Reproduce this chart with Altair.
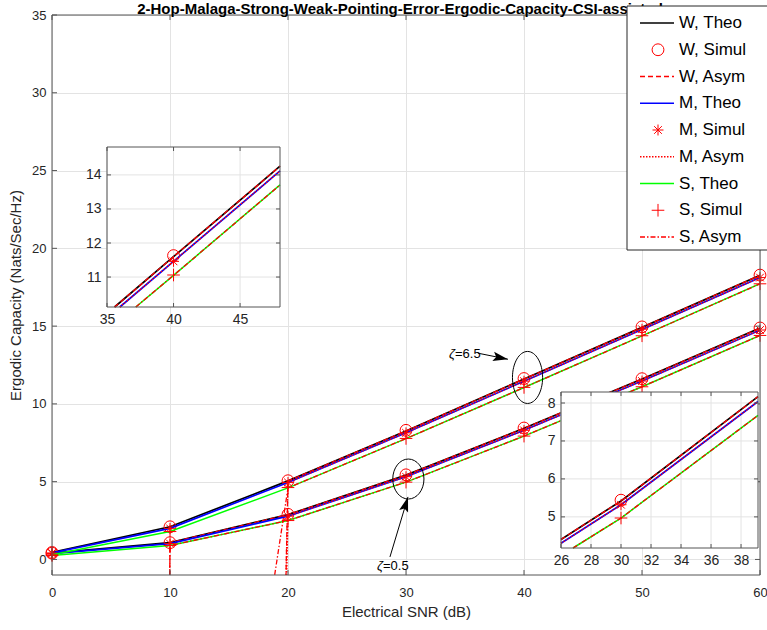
import altair as alt
import pandas as pd

# ---------------- values ----------------
snr = [0, 10, 20, 30, 40, 50, 60]

# zeta = 6.5 (upper bundle)
z65_w_theo = [0.45, 2.10, 5.05, 8.26, 11.60, 14.92, 18.27]
z65_w_sim = [0.45, 2.10, 5.06, 8.30, 11.63, 14.95, 18.28]
z65_w_asym = [-900, -350, 5.05, 8.26, 11.60, 14.92, 18.27]
z65_m_theo = [0.42, 2.00, 4.95, 8.14, 11.46, 14.78, 18.12]
z65_m_sim = [0.42, 2.00, 4.95, 8.14, 11.46, 14.80, 18.12]
z65_m_asym = [-900, -350, 4.95, 8.14, 11.46, 14.78, 18.12]
z65_s_theo = [0.30, 1.80, 4.60, 7.77, 11.05, 14.37, 17.72]
z65_s_sim = [0.30, 1.80, 4.62, 7.78, 11.06, 14.38, 17.72]
z65_s_asym = [-400, -45, 4.60, 7.77, 11.05, 14.37, 17.72]

# zeta = 0.5 (lower bundle)
z05_w_theo = [0.40, 1.08, 2.88, 5.42, 8.43, 11.60, 14.87]
z05_w_sim = [0.40, 1.08, 2.90, 5.44, 8.45, 11.62, 14.88]
z05_w_asym = [-900, 1.08, 2.88, 5.42, 8.43, 11.60, 14.87]
z05_m_theo = [0.38, 1.02, 2.78, 5.32, 8.30, 11.47, 14.74]
z05_m_sim = [0.38, 1.02, 2.78, 5.32, 8.30, 11.47, 14.75]
z05_m_asym = [-900, -350, 2.78, 5.32, 8.30, 11.47, 14.74]
z05_s_theo = [0.25, 0.90, 2.50, 4.97, 7.93, 11.10, 14.40]
z05_s_sim = [0.25, 0.90, 2.50, 4.97, 7.93, 11.10, 14.40]
z05_s_asym = [-900, 0.90, 2.50, 4.97, 7.93, 11.10, 14.40]

legend_labels = ["W, Theo", "W, Simul", "W, Asym", "M, Theo", "M, Simul",
                 "M, Asym", "S, Theo", "S, Simul", "S, Asym"]

main_xticks = [0, 10, 20, 30, 40, 50, 60]
main_yticks = [0, 5, 10, 15, 20, 25, 30, 35]
main_xdom = [0, 60]
main_ydom = [-1, 35]

in1_xdom = [35, 48]
in1_ydom = [10.12, 14.82]
in1_xticks = [35, 40, 45]
in1_yticks = [11, 12, 13, 14]

in2_xdom = [26, 39.13]
in2_ydom = [4.18, 8.29]
in2_xticks = [26, 28, 30, 32, 34, 36, 38]
in2_yticks = [5, 6, 7, 8]

# annotations (data coordinates of the main axes)
ell_x = [40.3, 30.2]
ell_y = [11.70, 5.17]
arrow_x = [36.1, 28.64]
arrow_y = [13.26, 0.16]
arrow_x2 = [38.64, 30.17]
arrow_y2 = [12.87, 4.02]
arrow_ang = [101, 17]
lab_x = [34.15, 28.05]
lab_y = [13.21, -0.42]
lab_val = ["=6.5", "=0.5"]

title_str = "2-Hop-Malaga-Strong-Weak-Pointing-Error-Ergodic-Capacity-CSI-assisted"

curves = {
    ("6.5", "W, Theo"): z65_w_theo, ("6.5", "W, Simul"): z65_w_sim, ("6.5", "W, Asym"): z65_w_asym,
    ("6.5", "M, Theo"): z65_m_theo, ("6.5", "M, Simul"): z65_m_sim, ("6.5", "M, Asym"): z65_m_asym,
    ("6.5", "S, Theo"): z65_s_theo, ("6.5", "S, Simul"): z65_s_sim, ("6.5", "S, Asym"): z65_s_asym,
    ("0.5", "W, Theo"): z05_w_theo, ("0.5", "W, Simul"): z05_w_sim, ("0.5", "W, Asym"): z05_w_asym,
    ("0.5", "M, Theo"): z05_m_theo, ("0.5", "M, Simul"): z05_m_sim, ("0.5", "M, Asym"): z05_m_asym,
    ("0.5", "S, Theo"): z05_s_theo, ("0.5", "S, Simul"): z05_s_sim, ("0.5", "S, Asym"): z05_s_asym,
}

# ---------------- styles ----------------
FONT = "Liberation Sans"
RED = "#ff0000"
TXT = "#262626"
GRID = "#e3e3e3"
FRAME = "#555555"
W, H = 708, 560

ASTER = "M0,-1L0,1M-1,0L1,0M-0.7,-0.7L0.7,0.7M-0.7,0.7L0.7,-0.7"
PLUS = "M-1,0L1,0M0,-1L0,1"
ELLIPSE_A = "M-0.58,0A0.58,1,0,1,1,0.58,0A0.58,1,0,1,1,-0.58,0Z"
ELLIPSE_B = "M-0.78,0A0.78,1,0,1,1,0.78,0A0.78,1,0,1,1,-0.78,0Z"
HEAD = "M0,0L0.62,2L0,1.6L-0.62,2Z"

SERIES = [
    ("W, Theo", "line", dict(color="#000000", strokeWidth=1.7)),
    ("W, Simul", "point", dict(shape="circle", size=140)),
    ("W, Asym", "line", dict(color=RED, strokeWidth=1.3, strokeDash=[5, 3])),
    ("M, Theo", "line", dict(color="#0000ff", strokeWidth=1.7)),
    ("M, Simul", "point", dict(shape=ASTER, size=120)),
    ("M, Asym", "line", dict(color=RED, strokeWidth=1.3, strokeDash=[1.5, 1.5])),
    ("S, Theo", "line", dict(color="#00ff00", strokeWidth=1.5)),
    ("S, Simul", "point", dict(shape=PLUS, size=160)),
    ("S, Asym", "line", dict(color=RED, strokeWidth=1.3, strokeDash=[5, 2, 1.5, 2])),
]


def clip_segments(xs, ys, box):
    """Clip a polyline to a rectangle (what an inset axes does when drawing)."""
    x0, x1, y0, y1 = box
    pieces, cur = [], []
    for i in range(len(xs) - 1):
        ax, ay = xs[i], ys[i]
        dx, dy = xs[i + 1] - ax, ys[i + 1] - ay
        t0, t1, ok = 0.0, 1.0, True
        for p, q in ((-dx, ax - x0), (dx, x1 - ax), (-dy, ay - y0), (dy, y1 - ay)):
            if p == 0:
                if q < 0:
                    ok = False
                    break
                continue
            r = q / p
            if p < 0:
                t0 = max(t0, r)
            else:
                t1 = min(t1, r)
        if not ok or t0 >= t1:
            if cur:
                pieces.append(cur)
                cur = []
            continue
        P = (ax + t0 * dx, ay + t0 * dy)
        Q = (ax + t1 * dx, ay + t1 * dy)
        if cur and abs(cur[-1][0] - P[0]) < 1e-9 and abs(cur[-1][1] - P[1]) < 1e-9:
            cur.append(Q)
        else:
            if cur:
                pieces.append(cur)
            cur = [P, Q]
    if cur:
        pieces.append(cur)
    return pieces


# ---------------- main axes ----------------
rows = []
for grp in ["6.5", "0.5"]:
    for lab, kind, st in SERIES:
        for i, (x, v) in enumerate(zip(snr, curves[(grp, lab)])):
            rows.append(dict(series=lab, piece=grp, ord=i, snr=x, val=v))
main_df = pd.DataFrame(rows)

sx_main = alt.Scale(domain=main_xdom, nice=False, zero=False)
sy_main = alt.Scale(domain=main_ydom, nice=False, zero=False)
ax_main_x = alt.Axis(orient="bottom", values=main_xticks, grid=True, domain=False, ticks=False,
                     labelFontSize=13, labelPadding=11, labelFlush=False,
                     title="Electrical SNR (dB)", titleFontSize=15, titlePadding=5)
ax_main_y = alt.Axis(orient="left", values=main_yticks, grid=True, domain=False, ticks=False,
                     labelFontSize=13, labelPadding=6,
                     title="Ergodic Capacity (Nats/Sec/Hz)", titleFontSize=15, titlePadding=8)


def MX(f):
    return alt.X(f, scale=sx_main, axis=ax_main_x)


def MY(f):
    return alt.Y(f, scale=sy_main, axis=ax_main_y)


main_layers = []
for lab, kind, st in SERIES:
    src = alt.Chart(main_df).transform_filter(alt.datum.series == lab)
    if kind == "line":
        main_layers.append(src.mark_line(clip=True, **st).encode(
            x=MX("snr:Q"), y=MY("val:Q"), detail="piece:N", order="ord:Q"))
    else:
        main_layers.append(src.mark_point(filled=False, color=RED, strokeWidth=1, opacity=1, **st).encode(
            x=MX("snr:Q"), y=MY("val:Q")))

ell_df = pd.DataFrame({"x": ell_x, "y": ell_y})
main_layers.append(alt.Chart(ell_df.iloc[[0]]).mark_point(
    shape=ELLIPSE_A, size=2704, filled=False, color="black", strokeWidth=1, opacity=1).encode(
    x=MX("x:Q"), y=MY("y:Q")))
main_layers.append(alt.Chart(ell_df.iloc[[1]]).mark_point(
    shape=ELLIPSE_B, size=1600, filled=False, color="black", strokeWidth=1, opacity=1).encode(
    x=MX("x:Q"), y=MY("y:Q")))

arr_df = pd.DataFrame({"x": arrow_x, "y": arrow_y, "x2": arrow_x2, "y2": arrow_y2, "ang": arrow_ang})
main_layers.append(alt.Chart(arr_df).mark_rule(color="black", strokeWidth=1).encode(
    x=MX("x:Q"), y=MY("y:Q"), x2="x2:Q", y2="y2:Q"))
main_layers.append(alt.Chart(arr_df).mark_point(
    shape=HEAD, size=225, filled=True, color="black", opacity=1).encode(
    x=MX("x2:Q"), y=MY("y2:Q"), angle=alt.Angle("ang:Q", scale=None)))

lab_df = pd.DataFrame({"x": lab_x, "y": lab_y, "t": lab_val, "z": ["ζ", "ζ"]})
main_layers.append(alt.Chart(lab_df).mark_text(
    align="right", baseline="middle", fontSize=13, fontStyle="italic", font=FONT, color="black").encode(
    x=MX("x:Q"), y=MY("y:Q"), text="z:N"))
main_layers.append(alt.Chart(lab_df).mark_text(
    align="left", baseline="middle", fontSize=13, font=FONT, color="black").encode(
    x=MX("x:Q"), y=MY("y:Q"), text="t:N"))

xt_df = pd.DataFrame({"t": main_xticks, "lo": main_ydom[0], "hi": main_ydom[1]})
yt_df = pd.DataFrame({"t": main_yticks, "lo": main_xdom[0], "hi": main_xdom[1]})
main_layers.append(alt.Chart(xt_df).mark_rule(color=FRAME, y2Offset=-5).encode(
    x=MX("t:Q"), y=MY("lo:Q"), y2="lo:Q"))
main_layers.append(alt.Chart(xt_df).mark_rule(color=FRAME, y2Offset=5).encode(
    x=MX("t:Q"), y=MY("hi:Q"), y2="hi:Q"))
main_layers.append(alt.Chart(yt_df).mark_rule(color=FRAME, x2Offset=5).encode(
    y=MY("t:Q"), x=MX("lo:Q"), x2="lo:Q"))
main_layers.append(alt.Chart(yt_df).mark_rule(color=FRAME, x2Offset=-5).encode(
    y=MY("t:Q"), x=MX("hi:Q"), x2="hi:Q"))

frame_df = pd.DataFrame({"x0": [main_xdom[0]], "x1": [main_xdom[1]], "y0": [main_ydom[0]], "y1": [main_ydom[1]]})
main_layers.append(alt.Chart(frame_df).mark_rect(fillOpacity=0, stroke=FRAME, strokeWidth=1).encode(
    x=MX("x0:Q"), x2="x1:Q", y=MY("y0:Q"), y2="y1:Q"))

main = alt.layer(*main_layers)


# ---------------- insets ----------------
def build_inset(grp, xdom, ydom, xr, yr, xticks, yticks, xoff, yoff):
    sx = alt.Scale(domain=xdom, range=xr, nice=False, zero=False)
    sy = alt.Scale(domain=ydom, range=yr, nice=False, zero=False)
    axx = alt.Axis(orient="bottom", offset=xoff, values=xticks, grid=False, domain=False, ticks=False,
                   labelFontSize=14, labelPadding=5, labelFlush=False, title=None)
    axy = alt.Axis(orient="left", offset=yoff, values=yticks, grid=False, domain=False, ticks=False,
                   labelFontSize=14, labelPadding=6, title=None)

    def X(f):
        return alt.X(f, scale=sx, axis=axx)

    def Y(f):
        return alt.Y(f, scale=sy, axis=axy)

    xlo, xhi = xdom
    ylo, yhi = ydom
    box = (xlo, xhi, ylo, yhi)
    lrows, prow = [], []
    for lab, kind, st in SERIES:
        vals = curves[(grp, lab)]
        if kind == "line":
            for k, piece in enumerate(clip_segments(snr, vals, box)):
                for j, (x, v) in enumerate(piece):
                    lrows.append(dict(series=lab, piece=k, ord=j, snr=x, val=v))
        else:
            for x, v in zip(snr, vals):
                if xlo <= x <= xhi and ylo <= v <= yhi:
                    prow.append(dict(series=lab, snr=x, val=v))
    ldf = pd.DataFrame(lrows)
    pdf = pd.DataFrame(prow)
    bdf = pd.DataFrame({"x0": [xlo], "x1": [xhi], "y0": [ylo], "y1": [yhi]})
    gx = pd.DataFrame({"g": xticks, "lo": ylo, "hi": yhi})
    gy = pd.DataFrame({"g": yticks, "lo": xlo, "hi": xhi})

    layers = [
        alt.Chart(bdf).mark_rect(fill="white", strokeWidth=0).encode(
            x=X("x0:Q"), x2="x1:Q", y=Y("y0:Q"), y2="y1:Q"),
        alt.Chart(gx).mark_rule(color=GRID, strokeWidth=1).encode(x=X("g:Q"), y=Y("lo:Q"), y2="hi:Q"),
        alt.Chart(gy).mark_rule(color=GRID, strokeWidth=1).encode(y=Y("g:Q"), x=X("lo:Q"), x2="hi:Q"),
    ]
    for lab, kind, st in SERIES:
        if kind == "line":
            layers.append(alt.Chart(ldf).transform_filter(alt.datum.series == lab).mark_line(**st).encode(
                x=X("snr:Q"), y=Y("val:Q"), detail="piece:N", order="ord:Q"))
        elif len(pdf):
            layers.append(alt.Chart(pdf).transform_filter(alt.datum.series == lab).mark_point(
                filled=False, color=RED, strokeWidth=1, opacity=1, **st).encode(x=X("snr:Q"), y=Y("val:Q")))
    layers += [
        alt.Chart(gx).mark_rule(color=FRAME, y2Offset=-4).encode(x=X("g:Q"), y=Y("lo:Q"), y2="lo:Q"),
        alt.Chart(gx).mark_rule(color=FRAME, y2Offset=4).encode(x=X("g:Q"), y=Y("hi:Q"), y2="hi:Q"),
        alt.Chart(gy).mark_rule(color=FRAME, x2Offset=4).encode(y=Y("g:Q"), x=X("lo:Q"), x2="lo:Q"),
        alt.Chart(gy).mark_rule(color=FRAME, x2Offset=-4).encode(y=Y("g:Q"), x=X("hi:Q"), x2="hi:Q"),
        alt.Chart(bdf).mark_rect(fillOpacity=0, stroke=FRAME, strokeWidth=1).encode(
            x=X("x0:Q"), x2="x1:Q", y=Y("y0:Q"), y2="y1:Q"),
    ]
    return alt.layer(*layers)


inset1 = build_inset("6.5", in1_xdom, in1_ydom, [55, 228], [292, 132], in1_xticks, in1_yticks,
                     292 - H, -55)
inset2 = build_inset("0.5", in2_xdom, in2_ydom, [509, 706], [533, 377], in2_xticks, in2_yticks,
                     533 - H, -509)

# ---------------- legend + title ----------------
leg_df = pd.DataFrame({"row": list(range(len(legend_labels))), "label": legend_labels})
leg_y = alt.Y("row:Q", scale=alt.Scale(domain=[0, 8], range=[8, 222]), axis=None)
one = pd.DataFrame({"t": [title_str]})

leg_layers = [
    alt.Chart(one).mark_text(fontWeight="bold", fontSize=15, font=FONT, align="center",
                             baseline="alphabetic", color="black").encode(
        text="t:N", x=alt.value(348), y=alt.value(-1)),
    alt.Chart(one).mark_rect(fill="white", stroke="#262626", strokeWidth=1).encode(
        x=alt.value(575), x2=alt.value(722), y=alt.value(-9), y2=alt.value(235)),
]
for i, (lab, kind, st) in enumerate(SERIES):
    src = alt.Chart(leg_df).transform_filter(alt.datum.row == i)
    if kind == "line":
        leg_layers.append(src.mark_rule(**st).encode(x=alt.value(588), x2=alt.value(622), y=leg_y))
    else:
        leg_layers.append(src.mark_point(filled=False, color=RED, strokeWidth=1, opacity=1, **st).encode(
            x=alt.value(606), y=leg_y))
leg_layers.append(alt.Chart(leg_df).mark_text(
    align="left", baseline="middle", fontSize=17, font=FONT, color="black").encode(
    x=alt.value(627), y=leg_y, text="label:N"))
legend = alt.layer(*leg_layers)

chart = alt.layer(main, inset1, inset2, legend).resolve_scale(
    x="independent", y="independent"
).properties(
    width=W, height=H,
    padding={"left": 52, "top": 15, "right": 7, "bottom": 55},
    autosize=alt.AutoSizeParams(type="none"),
    background="white",
).configure_view(stroke=None).configure_axis(
    labelFont=FONT, titleFont=FONT, labelColor=TXT, titleColor=TXT,
    titleFontWeight="normal", gridColor=GRID, gridWidth=1,
).configure_text(font=FONT)

chart.save("out.html", embed_options={"renderer": "svg", "actions": False})
